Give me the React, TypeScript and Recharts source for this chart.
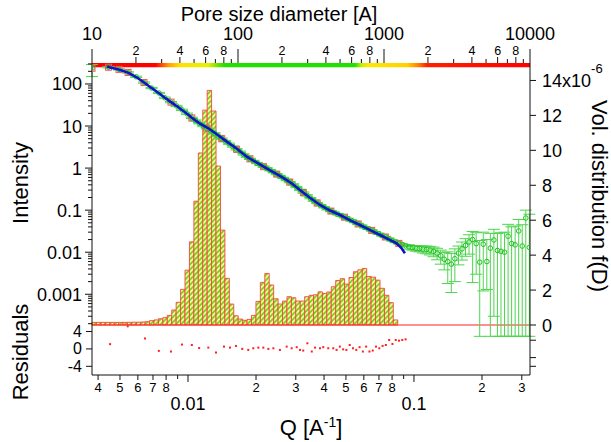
import React from 'react';
import { ComposedChart, XAxis, YAxis, Scatter, Line, ErrorBar, ReferenceArea, ReferenceLine } from 'recharts';

const FONT = '"Liberation Sans", Arial, Helvetica, sans-serif';
const INK = '#111111';
const W = 611;
const H = 442;

// ---------- pore size distribution (top axis, right axis, x1e-6) ----------
const binEdges = [
  10.0, 10.72, 11.5, 12.33, 13.22, 14.18, 15.21, 16.31, 17.48, 18.75,
  20.11, 21.56, 23.12, 24.79, 26.59, 28.51, 30.57, 32.78, 35.16, 37.7,
  40.44, 43.36, 46.5, 49.87, 53.48, 57.35, 61.5, 65.95, 70.73, 75.85,
  81.34, 87.23, 93.54, 100.3, 107.6, 115.4, 123.7, 132.7, 142.3, 152.6,
  163.6, 175.5, 188.2, 201.8, 216.4, 232.1, 248.9, 266.9, 286.2, 306.9,
  329.2, 353.0, 378.5, 405.9, 435.3, 466.8, 500.6, 536.8, 575.7, 617.3,
  662.0, 709.9, 761.3, 816.4, 875.5, 938.9, 1006.8, 1079.7, 1157.9, 1241.7,
];
const volDist = [
  0.15, 0.15, 0.15, 0.15, 0.15, 0.15, 0.15, 0.15, 0.155, 0.16,
  0.16, 0.17, 0.19, 0.25, 0.29, 0.36, 0.42, 0.55, 0.86, 1.3,
  2.04, 3.14, 4.76, 7.09, 9.85, 12.3, 13.43, 12.25, 9.1, 5.43,
  2.67, 1.2, 0.53, 0.34, 0.27, 0.32, 0.55, 1.35, 2.44, 2.95,
  2.29, 1.5, 1.2, 1.37, 1.62, 1.56, 1.37, 1.37, 1.62, 1.7,
  1.73, 1.9, 1.81, 1.89, 2.19, 2.55, 2.65, 2.34, 2.72, 3.05,
  3.16, 3.24, 2.78, 2.74, 2.57, 2.1, 1.7, 1.28, 0.29,
];

// ---------- scattering data ----------
const mainQ = [
  0.00376, 0.00445, 0.00495, 0.00543, 0.0059, 0.00639, 0.0069, 0.00744, 0.0079, 0.00841,
  0.0089, 0.00941, 0.0099, 0.0104, 0.0108, 0.0112, 0.0117, 0.0121, 0.0126, 0.0131,
  0.0136, 0.0141, 0.0146, 0.0152, 0.0158, 0.0164, 0.017, 0.0176, 0.0182, 0.0188,
  0.0195, 0.0202, 0.0209, 0.0216, 0.0223, 0.0231, 0.0239, 0.0247, 0.0255, 0.0264,
  0.0273, 0.0282, 0.0292, 0.0302, 0.0313, 0.0324, 0.0336, 0.0348, 0.036, 0.0373,
  0.0386, 0.04, 0.0414, 0.0429, 0.0444, 0.046, 0.0476, 0.0493, 0.051, 0.0528,
  0.0547, 0.0566, 0.0586, 0.0607, 0.0628, 0.065, 0.0673, 0.0697, 0.0722, 0.0747,
  0.0773, 0.08, 0.0828, 0.0857, 0.0887, 0.0918,
];
const mainI = [
  236, 250, 222, 188, 148, 108, 80, 61, 47, 37,
  30, 24.3, 19.6, 15.6, 13.5, 11.7, 10.0, 8.9, 7.7, 6.7,
  5.8, 5.0, 4.4, 3.8, 3.25, 2.8, 2.45, 2.12, 1.87, 1.66,
  1.48, 1.32, 1.19, 1.08, 0.99, 0.89, 0.8, 0.72, 0.65, 0.585,
  0.52, 0.465, 0.41, 0.355, 0.305, 0.262, 0.225, 0.193, 0.168, 0.148,
  0.131, 0.117, 0.105, 0.095, 0.087, 0.08, 0.074, 0.068, 0.062, 0.057,
  0.052, 0.047, 0.043, 0.039, 0.036, 0.033, 0.03, 0.0275, 0.025, 0.023,
  0.021, 0.019, 0.0175, 0.0162, 0.0152, 0.0142,
];
const mainRelErr = 0.035;
const firstPointBounds = [150, 290];
const markerEvery = 4;

const tailQ = [
  0.095, 0.0985, 0.102, 0.1058, 0.1096, 0.1136, 0.1178, 0.1221, 0.1266, 0.1313,
  0.1361, 0.1411, 0.1463, 0.1517, 0.1573, 0.1631, 0.1691, 0.1753, 0.1818, 0.1885,
  0.1954, 0.2026, 0.2101, 0.2178, 0.2258, 0.2341, 0.2427, 0.2516, 0.2609, 0.2705,
  0.2804, 0.2907, 0.3014, 0.3125, 0.324,
];
const tailI = [
  0.0134, 0.0128, 0.0124, 0.0122, 0.0118, 0.0116, 0.0112, 0.0105, 0.0095, 0.0082,
  0.0068, 0.006, 0.0052, 0.007, 0.0095, 0.012, 0.0145, 0.0175, 0.02, 0.016,
  0.0058, 0.0155, 0.006, 0.0125, 0.0195, 0.011, 0.0105, 0.01, 0.024, 0.016,
  0.015, 0.032, 0.014, 0.065, 0.013,
];
const tailLo = [
  0.0118, 0.0112, 0.0106, 0.0102, 0.0096, 0.0092, 0.0086, 0.0078, 0.0066, 0.0052,
  0.0038, 0.0018, 0.0011, 0.002, 0.005, 0.0065, 0.008, 0.009, 0.0019, 0.003,
  0.0001, 0.0012, 0.0013, 0.0001, 0.0003, 0.0001, 0.0001, 0.0001, 0.0001, 0.0001,
  0.0001, 0.0001, 0.0001, 0.0001, 0.0001,
];
const tailHi = [
  0.015, 0.0145, 0.0142, 0.0142, 0.014, 0.014, 0.0138, 0.0132, 0.0124, 0.0112,
  0.0098, 0.0102, 0.0093, 0.012, 0.014, 0.0175, 0.021, 0.026, 0.031, 0.029,
  0.019, 0.03, 0.02, 0.028, 0.035, 0.028, 0.029, 0.03, 0.046, 0.04,
  0.042, 0.06, 0.045, 0.1, 0.08,
];

// ---------- model fit ----------
const fitQ = [
  0.00438, 0.0049, 0.00543, 0.0059, 0.00639, 0.0069, 0.00744, 0.0079, 0.00841, 0.0089,
  0.00941, 0.0099, 0.0104, 0.0112, 0.0123, 0.0135, 0.01483, 0.0165, 0.01819, 0.02,
  0.02228, 0.0245, 0.0264, 0.029, 0.0313, 0.0345, 0.0384, 0.0425, 0.0471, 0.052,
  0.0577, 0.064, 0.0708, 0.077, 0.0838, 0.088, 0.0912,
];
const fitI = [
  258, 224, 186, 146, 108, 80, 60, 47, 37, 30,
  24, 19.5, 15.8, 11.7, 8.85, 6.2, 4.25, 2.85, 1.87, 1.38,
  0.99, 0.74, 0.585, 0.42, 0.302, 0.2, 0.133, 0.098, 0.0767, 0.058,
  0.0444, 0.0336, 0.0257, 0.0205, 0.0163, 0.0125, 0.00944,
];

// ---------- residuals ----------
const resQ = [
  0.00452, 0.00541, 0.00645, 0.00743, 0.00841, 0.00941, 0.0104, 0.0112, 0.0123, 0.0133,
  0.01443, 0.01534, 0.0163, 0.01738, 0.01848, 0.01945, 0.02047, 0.02154, 0.02268, 0.02387,
  0.02552, 0.02733, 0.02876, 0.03027, 0.0313, 0.03236, 0.03375, 0.0353, 0.0365, 0.03837,
  0.03968, 0.04175, 0.04393, 0.04544, 0.04699, 0.04859, 0.05024, 0.05195, 0.05372, 0.05556,
  0.05745, 0.05941, 0.06143, 0.06352, 0.06569, 0.06792, 0.07024, 0.07263, 0.0751, 0.07766,
  0.08031, 0.08304, 0.08587, 0.0888, 0.09182,
];
const resV = [
  1.1, 5.2, 2.4, -0.45, -0.6, 1.0, 0.9, 0.2, 0.3, -0.83,
  0.53, 0.3, 0.68, 0.0, -0.23, 0.15, 0.3, 0.3, 0.0, 0.15,
  -0.23, 0.53, 0.15, 0.4, -0.23, -0.38, 1.29, -0.6, 0.3, 0.15,
  0.4, 0.15, 0.15, -0.23, 0.53, -0.1, -0.23, 0.9, 0.15, -0.23,
  0.4, -0.6, 0.53, -0.6, -0.38, 0.53, 0.15, 0.68, 0.9, 2.05,
  1.14, 2.05, 1.9, 2.05, 2.2,
];

// ---------- axes ----------
const Q_DOMAIN = [0.00376, 0.3262];
const I_DOMAIN = [0.000186, 315];
const D_DOMAIN = [10, 10000];
const VOL_DOMAIN = [0, 15];
const RES_DOMAIN = [-6, 5.5];
const poreTickValues = [
  10, 20, 30, 40, 50, 60, 70, 80, 90,
  100, 200, 300, 400, 500, 600, 700, 800, 900,
  1000, 2000, 3000, 4000, 5000, 6000, 7000, 8000, 9000, 10000,
];
const qTickValues = [
  0.004, 0.005, 0.006, 0.007, 0.008, 0.009,
  0.01, 0.02, 0.03, 0.04, 0.05, 0.06, 0.07, 0.08, 0.09,
  0.1, 0.2, 0.3,
];
const intDecades = [0.0001, 0.001, 0.01, 0.1, 1, 10, 100];
const intMultipliers = [1, 2, 3, 4, 5, 6, 7, 8, 9];
const intTickValues = intDecades
  .flatMap((d) => intMultipliers.map((m) => m * d))
  .filter((v) => v >= I_DOMAIN[0] && v <= I_DOMAIN[1]);
const volTickValues = [0, 2, 4, 6, 8, 10, 12, 14];
const resLeftTicks = [-4, 0, 4];
const resRightTicks = [-4, -2, 2];

// ---------- derived tables ----------
const dataPts = [
  ...mainQ.map((q, k) => ({
    q,
    i: mainI[k],
    err: k === 0
      ? [mainI[k] - firstPointBounds[0], firstPointBounds[1] - mainI[k]]
      : [mainI[k] * mainRelErr, mainI[k] * mainRelErr],
  })),
  ...tailQ.map((q, k) => ({ q, i: tailI[k], err: [tailI[k] - tailLo[k], tailHi[k] - tailI[k]] })),
];
const redPts = mainQ.map((q, k) => ({ q, i: mainI[k] })).filter((_, k) => k % markerEvery === 1 || k < 4);
const fitPts = fitQ.map((q, k) => ({ q, i: fitI[k] }));
const resPts = resQ.map((q, k) => ({ q, r: resV[k] }));
const bins = volDist.map((v, k) => ({ x1: binEdges[k], x2: binEdges[k + 1], v }));
const binPts = bins.map((b) => ({ d: Math.sqrt(b.x1 * b.x2), v: b.v }));

function decomp(v: number) {
  const e = Math.floor(Math.log10(v) + 1e-9);
  const m = Math.round(v / Math.pow(10, e));
  return { m, major: m === 1 };
}
function fmt(v: number) {
  return String(Number(v.toPrecision(6)));
}

const textProps = { fontFamily: FONT, fill: '#000' };

const TopTick = (p: any) => {
  const { x, y, payload } = p;
  const v = payload.value as number;
  const { m, major } = decomp(v);
  if (major) {
    return (
      <g>
        <line x1={x} x2={x} y1={y} y2={y - 14} stroke={INK} />
        <text x={x} y={y - 23.5} textAnchor="middle" fontSize={18} {...textProps}>{fmt(v)}</text>
      </g>
    );
  }
  const lab = m % 2 === 0;
  return (
    <g>
      <line x1={x} x2={x} y1={y} y2={y - (lab ? 6 : 4)} stroke={INK} />
      {lab && <text x={x} y={y - 8} textAnchor="middle" fontSize={12.5} {...textProps}>{m}</text>}
    </g>
  );
};

const BottomTick = (p: any) => {
  const { x, y, payload } = p;
  const v = payload.value as number;
  const { m, major } = decomp(v);
  if (major) {
    return (
      <g>
        <line x1={x} x2={x} y1={y} y2={y + 7} stroke={INK} />
        <text x={x} y={y + 35} textAnchor="middle" fontSize={18} {...textProps}>{fmt(v)}</text>
      </g>
    );
  }
  const lab = m <= 8;
  return (
    <g>
      <line x1={x} x2={x} y1={y} y2={y + (lab ? 5 : 4)} stroke={INK} />
      {lab && <text x={x} y={y + 17} textAnchor="middle" fontSize={13} {...textProps}>{m}</text>}
    </g>
  );
};

const LeftLogTick = (p: any) => {
  const { x, y, payload } = p;
  const v = payload.value as number;
  const { major } = decomp(v);
  if (major) {
    return (
      <g>
        <line x1={x - 7} x2={x} y1={y} y2={y} stroke={INK} />
        <text x={x - 10} y={y + 6.5} textAnchor="end" fontSize={18} {...textProps}>{fmt(v)}</text>
      </g>
    );
  }
  return <line x1={x - 4} x2={x} y1={y} y2={y} stroke={INK} />;
};

const RightVolTick = (p: any) => {
  const { x, y, payload } = p;
  const v = payload.value as number;
  return (
    <g>
      <line x1={x} x2={x + 6} y1={y} y2={y} stroke={INK} />
      <text x={x + 12} y={y + 6.5} textAnchor="start" fontSize={18} {...textProps}>
        {v === 14 ? (
          <>
            14x10<tspan dy={-14} fontSize={13}>-6</tspan>
          </>
        ) : (
          String(v)
        )}
      </text>
    </g>
  );
};

const ResLeftTick = (p: any) => {
  const { x, y, payload } = p;
  return (
    <g>
      <line x1={x - 6} x2={x} y1={y} y2={y} stroke={INK} />
      <text x={x - 10} y={y + 5.5} textAnchor="end" fontSize={16} {...textProps}>{String(payload.value)}</text>
    </g>
  );
};

const ResRightTick = (p: any) => {
  const { x, y } = p;
  return <line x1={x} x2={x + 6} y1={y} y2={y} stroke={INK} />;
};

const RedSquare = (p: any) => {
  const { cx, cy } = p;
  if (cx == null || cy == null) return <g />;
  return <rect x={cx - 3} y={cy - 3} width={6} height={6} fill="none" stroke="#ff5050" strokeWidth={1} />;
};
const GreenCircle = (p: any) => {
  const { cx, cy } = p;
  if (cx == null || cy == null) return <g />;
  return <circle cx={cx} cy={cy} r={2.3} fill="none" stroke="#22c322" strokeWidth={1} />;
};
const ResDot = (p: any) => {
  const { cx, cy } = p;
  if (cx == null || cy == null) return <g />;
  return <rect x={cx - 1} y={cy - 1} width={2} height={2} fill="#ff2020" />;
};
const Nothing = () => <g />;

export default function App() {
  return (
    <div style={{ position: 'absolute', left: 0, top: 0, width: W, height: H, background: '#fff' }}>
      <div style={{ position: 'absolute', left: 0, top: 0 }}>
        <ComposedChart width={W} height={H} margin={{ top: 0, right: 0, bottom: 117, left: 0 }}>
          <defs>
            <pattern id="hatch" patternUnits="userSpaceOnUse" width="3.6" height="3.6" patternTransform="rotate(45)">
              <rect x="0" y="0" width="3.6" height="3.6" fill="#eef8a4" />
              <rect x="0" y="0" width="1.8" height="3.6" fill="#7cd41a" />
            </pattern>
            <linearGradient id="cbar" x1="0" y1="0" x2="1" y2="0">
              <stop offset="0" stopColor="#ff0000" />
              <stop offset="0.145" stopColor="#ff0000" />
              <stop offset="0.16" stopColor="#ff5000" />
              <stop offset="0.175" stopColor="#ffa000" />
              <stop offset="0.2" stopColor="#ffe000" />
              <stop offset="0.265" stopColor="#e8f000" />
              <stop offset="0.29" stopColor="#60e000" />
              <stop offset="0.305" stopColor="#20e000" />
              <stop offset="0.6" stopColor="#20e000" />
              <stop offset="0.615" stopColor="#c0f000" />
              <stop offset="0.63" stopColor="#ffe800" />
              <stop offset="0.72" stopColor="#ffd000" />
              <stop offset="0.745" stopColor="#ff8000" />
              <stop offset="0.765" stopColor="#ff2000" />
              <stop offset="1" stopColor="#ff0000" />
            </linearGradient>
          </defs>
          <XAxis
            xAxisId="d" dataKey="d" orientation="top" type="number" scale="log" domain={D_DOMAIN} allowDataOverflow
            ticks={poreTickValues} interval={0} tick={(p: any) => <TopTick {...p} />}
            tickLine={false} axisLine={false} tickSize={0} tickMargin={0} height={63}
          />
          <XAxis xAxisId="q" dataKey="q" type="number" scale="log" domain={Q_DOMAIN} allowDataOverflow hide />
          <YAxis
            yAxisId="int" dataKey="i" type="number" scale="log" domain={I_DOMAIN} allowDataOverflow
            ticks={intTickValues} interval={0} tick={(p: any) => <LeftLogTick {...p} />}
            tickLine={false} axisLine={{ stroke: INK }} tickSize={0} tickMargin={0} width={92}
          />
          <YAxis
            yAxisId="vol" dataKey="v" orientation="right" type="number" domain={VOL_DOMAIN} allowDataOverflow
            ticks={volTickValues} interval={0} tick={(p: any) => <RightVolTick {...p} />}
            tickLine={false} axisLine={{ stroke: INK }} tickSize={0} tickMargin={0} width={81}
          />
          <Scatter xAxisId="d" yAxisId="vol" data={binPts} dataKey="v" shape={(p: any) => <Nothing />} isAnimationActive={false} legendType="none" />
          {bins.map((b, k) => (
            <ReferenceArea
              key={'bin' + k} xAxisId="d" yAxisId="vol" x1={b.x1} x2={b.x2} y1={0} y2={b.v}
              fill="url(#hatch)" fillOpacity={1} stroke="#ff4040" strokeWidth={0.9} ifOverflow="visible" zIndex={50}
            />
          ))}
          <ReferenceArea xAxisId="d" yAxisId="vol" x1={10} x2={10000} y1={14.76} y2={15} fill="url(#cbar)" fillOpacity={1} stroke="none" ifOverflow="visible" zIndex={50} />
          <ReferenceLine xAxisId="d" yAxisId="vol" y={0} stroke="#ff2020" strokeWidth={1} />
          <Scatter xAxisId="q" yAxisId="int" data={redPts} dataKey="i" shape={(p: any) => <RedSquare {...p} />} isAnimationActive={false} />
          <Scatter xAxisId="q" yAxisId="int" data={dataPts} dataKey="i" shape={(p: any) => <GreenCircle {...p} />} isAnimationActive={false}>
            <ErrorBar dataKey="err" direction="y" width={6} stroke="#4cd64c" strokeWidth={1} isAnimationActive={false} />
          </Scatter>
          <Line xAxisId="q" yAxisId="int" data={fitPts} dataKey="i" type="linear" stroke="#0a14c8" strokeWidth={2.6} dot={false} isAnimationActive={false} zIndex={1000} />
        </ComposedChart>
      </div>
      <div style={{ position: 'absolute', left: 0, top: 0 }}>
        <ComposedChart width={W} height={H} margin={{ top: 325, right: 0, bottom: 0, left: 0 }}>
          <XAxis
            xAxisId="q" dataKey="q" type="number" scale="log" domain={Q_DOMAIN} allowDataOverflow
            ticks={qTickValues} interval={0} tick={(p: any) => <BottomTick {...p} />}
            tickLine={false} axisLine={{ stroke: INK }} tickSize={0} tickMargin={0} height={67}
          />
          <YAxis
            yAxisId="res" dataKey="r" type="number" domain={RES_DOMAIN} allowDataOverflow
            ticks={resLeftTicks} interval={0} tick={(p: any) => <ResLeftTick {...p} />}
            tickLine={false} axisLine={{ stroke: INK }} tickSize={0} tickMargin={0} width={92}
          />
          <YAxis
            yAxisId="res2" orientation="right" type="number" domain={RES_DOMAIN} allowDataOverflow
            ticks={resRightTicks} interval={0} tick={(p: any) => <ResRightTick {...p} />}
            tickLine={false} axisLine={{ stroke: INK }} tickSize={0} tickMargin={0} width={81}
          />
          <Scatter xAxisId="q" yAxisId="res" data={resPts} dataKey="r" shape={(p: any) => <ResDot {...p} />} isAnimationActive={false} />
        </ComposedChart>
      </div>
      <svg width={W} height={H} style={{ position: 'absolute', left: 0, top: 0, pointerEvents: 'none' }}>
        <text x={279} y={21} textAnchor="middle" fontSize={20} {...textProps}>Pore size diameter [A]</text>
        <text x={28} y={183} textAnchor="middle" fontSize={22} transform="rotate(-90 28 183)" {...textProps}>Intensity</text>
        <text x={28} y={352} textAnchor="middle" fontSize={22} transform="rotate(-90 28 352)" {...textProps}>Residuals</text>
        <text x={592} y={196} textAnchor="middle" fontSize={22} transform="rotate(90 592 196)" {...textProps}>Vol. distribution f(D)</text>
        <text x={311} y={435} textAnchor="middle" fontSize={22} {...textProps}>
          Q [A<tspan dy={-8} fontSize={14}>-1</tspan><tspan dy={8}>]</tspan>
        </text>
      </svg>
    </div>
  );
}
